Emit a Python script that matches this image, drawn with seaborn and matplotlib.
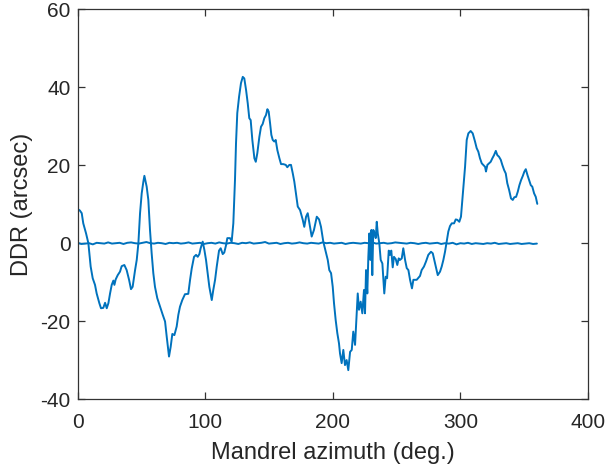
import matplotlib
matplotlib.use("Agg")
import matplotlib.pyplot as plt
import seaborn as sns
import pandas as pd

# Measured differential deflection vs. mandrel azimuth
azimuth = [0.0, 1.8, 3.3, 4.5, 6.7, 8.5, 10.3, 11.9, 13.7, 15.0, 17.1, 18.4, 20.2, 21.6, 22.9,
           24.2, 25.5, 26.8, 28.1, 28.9, 29.9, 31.5, 33.3, 34.6, 36.7, 38.5, 40.4, 41.9, 43.2,
           45.1, 46.4, 47.7, 49.0, 50.3, 51.6, 52.4, 54.2, 55.5, 56.8, 58.1, 59.4, 60.7, 62.5,
           64.7, 66.8, 68.6, 69.9, 71.7, 73.0, 74.3, 75.9, 77.7, 79.0, 80.3, 82.1, 84.2, 86.8,
           88.2, 89.5, 91.3, 92.9, 94.2, 95.5, 96.5, 98.1, 99.4, 100.7, 102.0, 103.3, 105.2,
           106.4, 107.8, 109.1, 110.9, 112.2, 113.8, 115.0, 116.4, 117.4, 119.5, 120.8, 122.1,
           123.4, 124.2, 125.2, 126.6, 128.1, 129.5, 130.7, 132.1, 133.4, 134.6, 135.7, 137.0,
           138.6, 139.7, 140.9, 142.5, 143.8, 145.1, 146.4, 147.7, 148.8, 149.8, 150.9, 151.9,
           153.0, 154.2, 155.3, 156.6, 158.2, 159.5, 161.3, 163.2, 164.4, 166.0, 167.3, 168.7,
           169.9, 171.2, 172.6, 174.4, 176.5, 177.7, 179.1, 180.4, 182.2, 183.5, 185.3, 187.5,
           189.3, 190.8, 192.6, 194.5, 196.1, 197.3, 198.7, 200.0, 201.0, 202.3, 203.6, 204.9,
           205.7, 207.0, 208.3, 209.6, 210.9, 212.2, 213.6, 214.9, 216.1, 217.5, 218.8, 219.6,
           220.6, 221.9, 223.2, 224.5, 225.3, 226.1, 227.1, 227.9, 228.7, 229.5, 230.3, 231.0,
           231.8, 232.9, 233.7, 234.5, 235.3, 236.5, 237.6, 238.9, 239.6, 240.4, 241.5, 242.6,
           243.9, 244.9, 245.9, 247.0, 248.0, 249.4, 250.6, 251.7, 252.7, 254.1, 255.3, 256.7,
           258.0, 259.3, 260.6, 262.1, 263.2, 265.8, 268.4, 269.7, 271.5, 273.1, 274.9, 277.0,
           278.4, 279.6, 281.0, 282.3, 284.1, 285.4, 286.7, 288.0, 289.3, 290.6, 291.9, 293.3,
           295.1, 296.4, 297.6, 299.2, 300.5, 301.6, 302.4, 303.7, 305.0, 306.3, 308.1, 309.7,
           311.5, 312.8, 314.1, 315.4, 316.8, 318.0, 319.4, 320.1, 321.2, 322.5, 323.8, 325.1,
           326.4, 327.8, 329.0, 330.3, 331.7, 332.9, 334.3, 335.6, 336.8, 338.2, 339.7, 341.1,
           342.3, 343.7, 345.0, 346.3, 347.6, 349.0, 350.2, 351.3, 352.6, 353.9, 355.2, 356.4,
           357.8, 359.1, 360.3]
ddr = [8.8, 8.4, 7.7, 5.1, 2.5, 0.0, -6.0, -9.0, -10.7, -12.9, -15.4, -16.7, -16.6, -15.3, -16.7,
       -15.4, -12.9, -10.7, -9.6, -10.7, -9.3, -8.2, -7.3, -5.9, -5.6, -6.9, -9.4, -11.8, -11.2,
       -6.9, -4.3, 0.0, 7.7, 12.8, 15.8, 17.3, 14.5, 11.1, 3.4, -2.6, -7.7, -11.2, -14.1,
       -16.3, -18.4, -20.1, -24.0, -29.1, -26.6, -23.3, -23.6, -21.4, -18.4, -16.3, -14.6, -13.1, -13.0,
       -9.4, -6.5, -3.5, -3.0, -3.5, -2.8, -1.3, 0.4, -1.7, -4.3, -7.7, -11.2, -14.6,
       -12.0, -9.4, -6.0, -1.9, -1.3, -2.8, -2.4, -0.5, 1.3, 1.3, 0.4, 5.1,
       16.2, 25.6, 33.4, 37.6, 41.1, 42.7, 42.3, 39.3, 35.9, 32.1, 31.6, 26.5,
       21.8, 20.9, 23.1, 27.3, 29.9, 30.6, 32.1, 32.9, 34.4, 33.8, 30.8, 27.8,
       26.5, 26.1, 26.5, 23.9, 21.8, 20.3, 20.3, 20.1, 19.5, 20.1, 20.1, 17.9,
       15.8, 12.8, 9.4, 8.5, 6.0, 4.2, 6.8, 7.7, 4.2, 1.7, 3.4, 6.8,
       6.1, 4.2, 0.4, -2.2, -4.3, -6.9, -7.7, -11.2, -15.4, -19.7, -23.1, -25.7,
       -28.3, -30.8, -27.4, -31.3, -30.0, -32.6, -27.9, -27.4, -22.7, -26.1, -18.0, -12.9,
       -17.1, -15.0, -18.0, -12.0, -18.0, -6.9, -12.9, -3.5, 2.5, -4.3, 3.4, -8.2,
       3.4, 2.5, 1.3, 5.5, 2.5, 0.0, -4.3, -5.2, -8.6, -12.9, -8.6, -9.0,
       -1.9, -3.0, -1.9, -6.2, -3.5, -4.1, -5.6, -3.9, -4.3, -3.9, -1.3, -4.3,
       -6.4, -6.9, -9.4, -11.6, -9.4, -9.4, -8.4, -6.9, -6.0, -4.7, -3.0, -2.2,
       -2.6, -4.3, -6.4, -8.2, -7.3, -6.0, -4.3, -2.2, 0.4, 3.0, 4.4, 5.1,
       5.1, 6.1, 6.0, 5.5, 6.8, 11.1, 14.5, 19.6, 26.5, 28.2, 28.8, 28.2,
       26.1, 24.4, 23.5, 21.8, 20.5, 20.1, 19.6, 18.4, 20.1, 20.5, 20.9, 21.8,
       22.6, 23.7, 22.6, 22.2, 21.4, 20.1, 18.8, 17.9, 15.4, 13.7, 11.5, 11.1,
       11.8, 11.9, 13.2, 14.9, 16.2, 17.3, 18.4, 19.0, 17.5, 16.2, 14.9, 14.5,
       12.8, 11.9, 10.1]

# Reference trace (near zero), sampled every 3 degrees
ref_azimuth = list(range(0, 361, 3))
ref_ddr = [0.1, -0.2, -0.1, 0.0, -0.3, 0.1, 0.0, -0.1, 0.2, -0.1, 0.0, 0.1, -0.2, 0.1, 0.2,
           0.0, -0.1, 0.1, 0.3, 0.0, -0.1, 0.1, 0.0, -0.2, 0.1, 0.0, 0.1, -0.1, 0.0, 0.2,
           -0.1, 0.0, 0.1, -0.2, 0.0, 0.1, -0.1, 0.2, 0.0, -0.1, 0.1, 0.0, -0.2, 0.1, 0.0,
           0.2, -0.1, 0.0, 0.1, 0.3, -0.1, 0.0, 0.1, -0.2, 0.0, 0.1, -0.1, 0.0, 0.2, 0.0,
           -0.1, 0.1, 0.0, -0.1, 0.2, 0.0, 0.1, -0.1, 0.0, 0.1, -0.2, 0.0, 0.1, 0.0, -0.1,
           0.1, 0.0, 0.2, -0.1, 0.0, 0.1, -0.1, 0.0, 0.2, 0.1, 0.0, -0.1, 0.1, 0.0, -0.2,
           0.0, 0.1, -0.1, 0.0, 0.1, -0.2, 0.0, -0.1, 0.1, -0.3, 0.0, -0.1, 0.1, -0.2, 0.0,
           -0.1, -0.2, 0.0, -0.1, 0.1, -0.2, -0.1, 0.0, -0.2, -0.1, 0.0, -0.2, -0.1, 0.0, -0.2,
           -0.1]

x_ticks = [0, 100, 200, 300, 400]
y_ticks = [-40, -20, 0, 20, 40, 60]

sns.set_style("ticks")
plt.rcParams["font.family"] = ["Liberation Sans", "DejaVu Sans"]
plt.rcParams["axes.unicode_minus"] = False

line_color = "#0072BD"
axis_color = "#333333"

fig = plt.figure(figsize=(6.08, 4.67), dpi=100)
ax = fig.add_axes([0.1275, 0.1456, 0.8395, 0.8341])

main_df = pd.DataFrame({"azimuth": azimuth, "ddr": ddr})
ref_df = pd.DataFrame({"azimuth": ref_azimuth, "ddr": ref_ddr})

sns.lineplot(data=main_df, x="azimuth", y="ddr", sort=False, estimator=None,
             color=line_color, linewidth=1.4, ax=ax)
sns.lineplot(data=ref_df, x="azimuth", y="ddr", sort=False, estimator=None,
             color=line_color, linewidth=1.4, ax=ax)

ax.set_xlim(0, 400)
ax.set_ylim(-40, 60)
ax.set_xticks(x_ticks)
ax.set_yticks(y_ticks)
ax.set_xticklabels([str(t) for t in x_ticks])
ax.set_yticklabels([str(t) for t in y_ticks])

for side in ["left", "right", "top", "bottom"]:
    ax.spines[side].set_visible(True)
    ax.spines[side].set_color(axis_color)
    ax.spines[side].set_linewidth(0.9)

ax.tick_params(axis="both", which="both", direction="in", length=5, width=0.9,
               color=axis_color, labelcolor="#262626", labelsize=15,
               top=True, right=True)
ax.tick_params(axis="x", pad=10)
ax.tick_params(axis="y", pad=5)

ax.set_xlabel("Mandrel azimuth (deg.)", fontsize=17, color="#262626", labelpad=7)
ax.set_ylabel("DDR (arcsec)", fontsize=17, color="#262626", labelpad=5)

fig.savefig("out.png", dpi=100)
